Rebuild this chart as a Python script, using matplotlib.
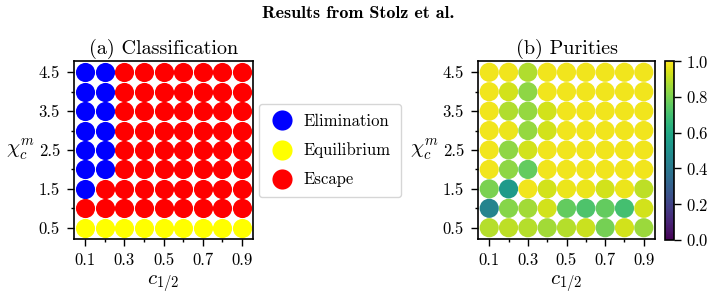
import numpy as np
import matplotlib
matplotlib.use("Agg")
import matplotlib.pyplot as plt
from matplotlib.lines import Line2D
from matplotlib.ticker import FixedLocator

plt.rcParams['font.family'] = ['cmr10', 'DejaVu Serif']
plt.rcParams['mathtext.fontset'] = 'cm'
plt.rcParams['axes.formatter.use_mathtext'] = True

c_half = [0.1, 0.2, 0.3, 0.4, 0.5, 0.6, 0.7, 0.8, 0.9]
chi_m = [0.5, 1.0, 1.5, 2.0, 2.5, 3.0, 3.5, 4.0, 4.5]
x_tick_labels = ['0.1', '0.3', '0.5', '0.7', '0.9']
y_tick_labels = ['0.5', '1.5', '2.5', '3.5', '4.5']
class_names = ['Elimination', 'Equilibrium', 'Escape']
class_colors = ['blue', 'yellow', 'red']

# classification per row (chi from 0.5 up to 4.5), columns c = 0.1 .. 0.9
# 0 = Elimination, 1 = Equilibrium, 2 = Escape
classification = [
    [1, 1, 1, 1, 1, 1, 1, 1, 1],  # 0.5
    [2, 2, 2, 2, 2, 2, 2, 2, 2],  # 1.0
    [0, 2, 2, 2, 2, 2, 2, 2, 2],  # 1.5
    [0, 0, 2, 2, 2, 2, 2, 2, 2],  # 2.0
    [0, 0, 2, 2, 2, 2, 2, 2, 2],  # 2.5
    [0, 0, 2, 2, 2, 2, 2, 2, 2],  # 3.0
    [0, 0, 2, 2, 2, 2, 2, 2, 2],  # 3.5
    [0, 0, 2, 2, 2, 2, 2, 2, 2],  # 4.0
    [0, 0, 2, 2, 2, 2, 2, 2, 2],  # 4.5
]

purities = [
    [0.89, 0.90, 0.89, 0.86, 0.89, 0.92, 0.79, 0.93, 0.85],  # 0.5
    [0.45, 0.82, 0.86, 0.93, 0.76, 0.72, 0.76, 0.70, 0.93],  # 1.0
    [0.80, 0.54, 0.98, 0.93, 0.97, 0.97, 0.93, 0.97, 0.90],  # 1.5
    [0.98, 0.83, 0.76, 0.98, 0.98, 0.98, 0.98, 0.98, 0.98],  # 2.0
    [0.98, 0.83, 0.93, 0.98, 0.98, 0.98, 0.98, 0.98, 0.98],  # 2.5
    [0.98, 0.97, 0.84, 0.93, 0.98, 0.98, 0.98, 0.98, 0.98],  # 3.0
    [0.98, 0.88, 0.84, 0.93, 0.98, 0.98, 0.98, 0.98, 0.98],  # 3.5
    [0.98, 0.93, 0.83, 0.98, 0.98, 0.98, 0.98, 0.98, 0.98],  # 4.0
    [0.98, 0.98, 0.88, 0.98, 0.98, 0.98, 0.98, 0.98, 0.98],  # 4.5
]

W, H = 716, 300
fig = plt.figure(figsize=(W / 100, H / 100), dpi=100)

def rect(x0, y0, x1, y1):
    return [x0 / W, 1 - y1 / H, (x1 - x0) / W, (y1 - y0) / H]

ax1 = fig.add_axes(rect(74, 61, 253, 239))
ax2 = fig.add_axes(rect(478, 61, 655, 239))
cax = fig.add_axes(rect(665, 61, 674, 240))

X, Y = np.meshgrid(c_half, chi_m)
cls = np.array(classification)
pur = np.array(purities)
msize = 190

for k, (name, col) in enumerate(zip(class_names, class_colors)):
    m = cls == k
    ax1.scatter(X[m], Y[m], s=msize, c=col, linewidths=0, label=name)

sc = ax2.scatter(X.ravel(), Y.ravel(), s=msize, c=pur.ravel(), cmap='viridis',
                 vmin=0, vmax=1, linewidths=0)

for ax, t in [(ax1, '(a) Classification'), (ax2, '(b) Purities')]:
    ax.set_xlim(0.042, 0.958)
    ax.set_ylim(0.21, 4.79)
    ax.xaxis.set_major_locator(FixedLocator([0.1, 0.3, 0.5, 0.7, 0.9]))
    ax.xaxis.set_minor_locator(FixedLocator([0.2, 0.4, 0.6, 0.8]))
    ax.yaxis.set_major_locator(FixedLocator([0.5, 1.5, 2.5, 3.5, 4.5]))
    ax.yaxis.set_minor_locator(FixedLocator([1.0, 2.0, 3.0, 4.0]))
    ax.set_xticklabels(x_tick_labels)
    ax.set_yticklabels(y_tick_labels)
    ax.tick_params(which='major', length=5, width=1.0, labelsize=12, pad=5)
    ax.tick_params(which='minor', length=2.5, width=1.0)
    for s in ax.spines.values():
        s.set_linewidth(1.2)
    ax.set_xlabel(r'$c_{1/2}$', fontsize=15, labelpad=4)
    ax.set_ylabel(r'$\chi_c^m$', fontsize=15, rotation=0, labelpad=13, va='center')
    ax.set_title(t, fontsize=14.5, pad=5)

cb = fig.colorbar(sc, cax=cax)
cb.set_ticks([0.0, 0.2, 0.4, 0.6, 0.8, 1.0])
cb.ax.tick_params(labelsize=12, length=5, width=1.0)
cb.outline.set_linewidth(1.2)

handles = [Line2D([], [], marker='o', linestyle='none', markersize=14.5,
                  markerfacecolor=c, markeredgewidth=0) for c in class_colors]
fig.legend(handles, class_names, loc='center', bbox_to_anchor=(330 / W, 1 - 150.5 / H),
           fontsize=12, frameon=True, edgecolor='#cccccc', fancybox=True,
           handletextpad=0.5, labelspacing=0.82, borderpad=0.6, handlelength=1.6)

fig.suptitle('Results from Stolz et al.', fontsize=13, fontfamily=['cmb10', 'DejaVu Serif'],
             y=1 - 13 / H, va='center')

fig.savefig('out.png', dpi=100)
